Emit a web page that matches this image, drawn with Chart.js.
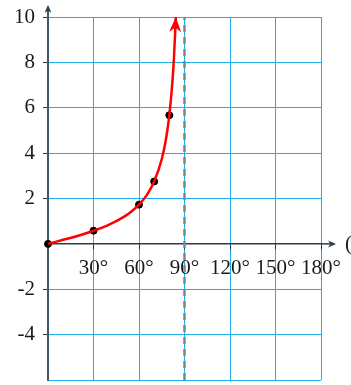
<!DOCTYPE html>
<html>
<head>
<meta charset="utf-8">
<script src="https://cdn.jsdelivr.net/npm/chart.js@4"></script>
<style>
  html, body { margin: 0; padding: 0; background: #fff; }
  canvas { display: block; }
</style>
</head>
<body>
<canvas id="chart" width="351" height="385"></canvas>
<script>
// tan(theta)
const curveAngles = [0, 10, 20, 30, 40, 50, 55, 60, 65, 70, 75, 78, 80, 82, 83, 84.3];
const curveValues = [0, 0.18, 0.36, 0.58, 0.84, 1.19, 1.43, 1.73, 2.14, 2.75, 3.73, 4.7, 5.67, 7.12, 8.14, 10];
const markerAngles = [0, 30, 60, 70, 80];
const markerValues = [0, 0.58, 1.73, 2.75, 5.67];
const asymptoteAngles = [90, 90];
const asymptoteValues = [-6, 10];
const xTicks = [0, 30, 60, 90, 120, 150, 180];
const yTicks = [-6, -4, -2, 0, 2, 4, 6, 8, 10];

const GRID = "#1cb0e8";
const AXIS = "#2c3d47";
const YAXIS = "#3b5a6a";

Chart.defaults.font.family = "\"Liberation Serif\", serif";
Chart.defaults.font.size = 21;
Chart.defaults.color = "#1a1a1a";

const toPoints = (xs, ys) => xs.map((x, i) => ({x, y: ys[i]}));

function drawArrow(ctx, x, y, angle, len, half, color) {
  ctx.save();
  ctx.translate(x, y);
  ctx.rotate(angle);
  ctx.fillStyle = color;
  ctx.beginPath();
  ctx.moveTo(0, 0);
  ctx.lineTo(-len, -half);
  ctx.lineTo(-len * 0.7, 0);
  ctx.lineTo(-len, half);
  ctx.closePath();
  ctx.fill();
  ctx.restore();
}

const arrows = {
  id: "arrows",
  afterDatasetsDraw(chart) {
    const {ctx, scales: {x, y}} = chart;
    const y0 = y.getPixelForValue(0);
    const x0 = x.getPixelForValue(0);
    const xEnd = x.getPixelForValue(180);
    const yTop = y.getPixelForValue(10);

    ctx.save();
    // x axis extension
    ctx.strokeStyle = AXIS;
    ctx.lineWidth = 1.5;
    ctx.beginPath();
    ctx.moveTo(xEnd, y0);
    ctx.lineTo(xEnd + 12, y0);
    ctx.stroke();
    drawArrow(ctx, xEnd + 15, y0, 0, 8, 3.5, AXIS);

    // y axis extension
    ctx.strokeStyle = YAXIS;
    ctx.lineWidth = 2;
    ctx.beginPath();
    ctx.moveTo(x0, yTop);
    ctx.lineTo(x0, yTop - 9);
    ctx.stroke();
    drawArrow(ctx, x0, yTop - 12, -Math.PI / 2, 8, 3.5, AXIS);

    // curve arrow head
    const pts = chart.getDatasetMeta(1).data;
    const last = pts[pts.length - 1];
    const prev = pts[pts.length - 2];
    const ang = Math.atan2(last.y - prev.y, last.x - prev.x);
    drawArrow(ctx, last.x, last.y, ang, 15, 6, "#ff0000");

    // axis name, cut off by the edge
    ctx.fillStyle = "#1a1a1a";
    ctx.font = "21px \"Liberation Serif\", serif";
    ctx.textAlign = "left";
    ctx.textBaseline = "middle";
    ctx.fillText("(θ)", xEnd + 24, y0 + 1);
    ctx.restore();
  },
};

new Chart(document.getElementById("chart"), {
  type: "scatter",
  data: {
    datasets: [
      {
        data: toPoints(asymptoteAngles, asymptoteValues),
        showLine: true,
        borderColor: "#858585",
        borderWidth: 2.5,
        borderDash: [7, 5],
        pointRadius: 0,
        clip: false,
      },
      {
        data: toPoints(curveAngles, curveValues),
        showLine: true,
        borderColor: "#ff0000",
        borderWidth: 2.5,
        cubicInterpolationMode: "monotone",
        pointRadius: 0,
        clip: false,
      },
      {
        data: toPoints(markerAngles, markerValues),
        showLine: false,
        backgroundColor: "#000",
        borderColor: "#000",
        pointRadius: 3.5,
        clip: false,
      },
    ],
  },
  options: {
    responsive: false,
    animation: false,
    layout: {padding: {left: 0, right: 30, top: 17, bottom: 3}},
    plugins: {legend: {display: false}, tooltip: {enabled: false}},
    scales: {
      x: {
        type: "linear",
        position: {y: 0},
        min: 0,
        max: 180,
        afterBuildTicks: scale => { scale.ticks = xTicks.map(v => ({value: v})); },
        afterFit: scale => { scale.paddingLeft = 0; scale.paddingRight = 0; },
        ticks: {
          autoSkip: false,
          maxRotation: 0,
          padding: 7,
          callback: v => (v === 0 ? "" : v + "°"),
        },
        grid: {
          color: GRID,
          lineWidth: 1,
          tickLength: 5,
          tickColor: c => (c.tick && c.tick.value === 0 ? "transparent" : AXIS),
        },
        border: {color: AXIS, width: 1.5},
      },
      y: {
        type: "linear",
        position: "left",
        min: -6,
        max: 10,
        afterBuildTicks: scale => { scale.ticks = yTicks.map(v => ({value: v})); },
        afterFit: scale => {
          scale.width = 48;
          scale.paddingTop = 0;
          scale.paddingBottom = 0;
        },
        ticks: {
          autoSkip: false,
          padding: 8,
          callback: v => (v === 0 || v === -6 ? "" : String(v)),
        },
        grid: {
          color: GRID,
          lineWidth: 1,
          tickLength: 5,
          tickColor: c => (c.tick && (c.tick.value === 0 || c.tick.value === -6) ? "transparent" : AXIS),
        },
        border: {color: YAXIS, width: 2},
      },
    },
  },
  plugins: [arrows],
});
</script>
</body>
</html>
